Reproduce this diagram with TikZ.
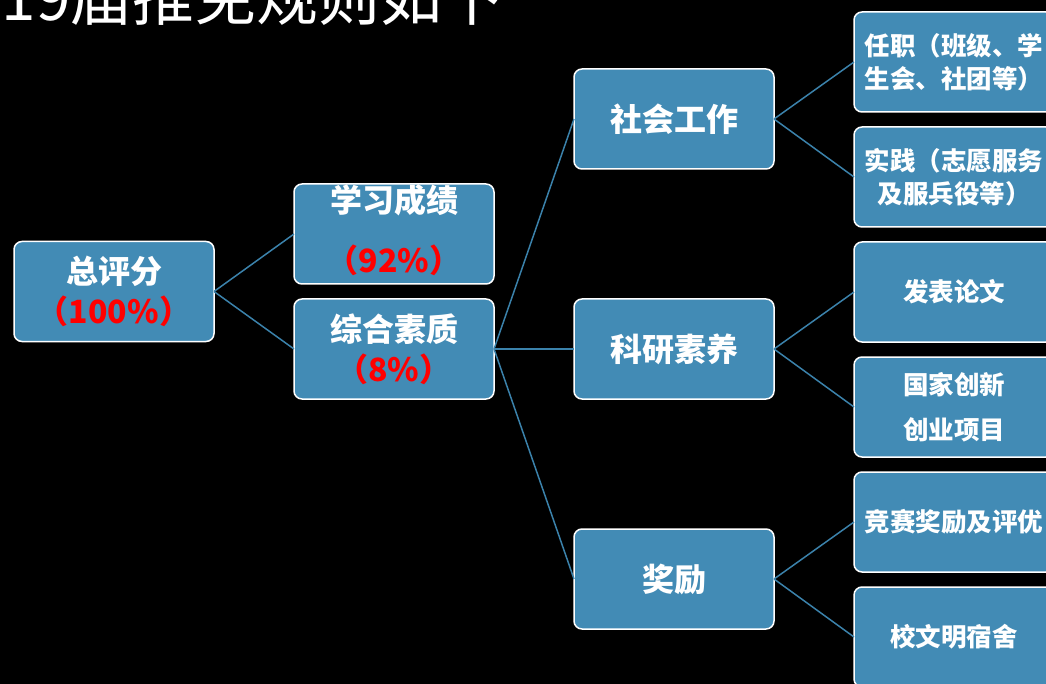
\documentclass[tikz,border=0pt]{standalone}
\usepackage{fontspec}
\setmainfont{Noto Sans CJK SC}
\usepackage{xcolor}
\usetikzlibrary{positioning}

\definecolor{boxblue}{HTML}{428BB5}
\definecolor{linkblue}{HTML}{3B82AB}
\newcommand{\pct}[1]{\textcolor{red}{#1}}

\tikzset{
  box/.style={draw=white, line width=1.5pt, fill=boxblue, rounded corners=8pt,
    minimum width=200pt, minimum height=100pt, inner sep=0pt, outer sep=0pt,
    text=white, align=center, font=\bfseries\fontsize{32}{40}\selectfont},
  leaf/.style={box, font=\bfseries\fontsize{25.5}{33}\selectfont},
  link/.style={draw=linkblue, line width=1.5pt},
}

\begin{document}
\begin{tikzpicture}[x=1pt, y=-1pt]

    % black slide background, cut to the visible part
    \fill[black] (0,0) rectangle (1046,684);
    \useasboundingbox (0,0) rectangle (1046,684);
    \clip (0,0) rectangle (1046,684);

    % slide title (cut off at the top)
    \node[anchor=base east, inner sep=0pt, text=white, font=\fontsize{62}{62}\selectfont]
        (title) at (505,21) {19届推免规则如下};

    % --- ROOT ---
    \node[box] (total) at (114,291.5) {总评分\\\pct{（100\%）}};

    % --- SECOND LEVEL ---
    \node[box] (grades)  at (394,234) {学习成绩\\[20pt]\pct{（92\%）}\\[-30pt]\mbox{}};
    \node[box] (quality) at (394,349) {综合素质\\\pct{（8\%）}};

    % --- THIRD LEVEL ---
    \node[box] (work)     at (674,119) {社会工作};
    \node[box] (research) at (674,349) {科研素养};
    \node[box] (award)    at (674,579) {奖励};

    % --- LEAVES ---
    \node[leaf] (post) at (954,62) {任职（班级、学\\生会、社团等）};
    \node[leaf, below=15pt of post] (practice) {实践（志愿服务\\及服兵役等）};
    \node[leaf, below=15pt of practice] (paper) {发表论文};
    \node[leaf, below=15pt of paper, font=\bfseries\fontsize{25.5}{45}\selectfont]
        (project) {国家创新\\创业项目};
    \node[leaf, below=15pt of project] (contest) {竞赛奖励及评优};
    \node[leaf, below=15pt of contest] (dorm) {校文明宿舍};

    % --- CONNECTORS ---
    \draw[link] (total.east) -- (grades.west);
    \draw[link] (total.east) -- (quality.west);
    \draw[link] (quality.east) -- (work.west);
    \draw[link] (quality.east) -- (research.west);
    \draw[link] (quality.east) -- (award.west);
    \draw[link] (work.east) -- (post.west);
    \draw[link] (work.east) -- (practice.west);
    \draw[link] (research.east) -- (paper.west);
    \draw[link] (research.east) -- (project.west);
    \draw[link] (award.east) -- (contest.west);
    \draw[link] (award.east) -- (dorm.west);

\end{tikzpicture}
\end{document}
